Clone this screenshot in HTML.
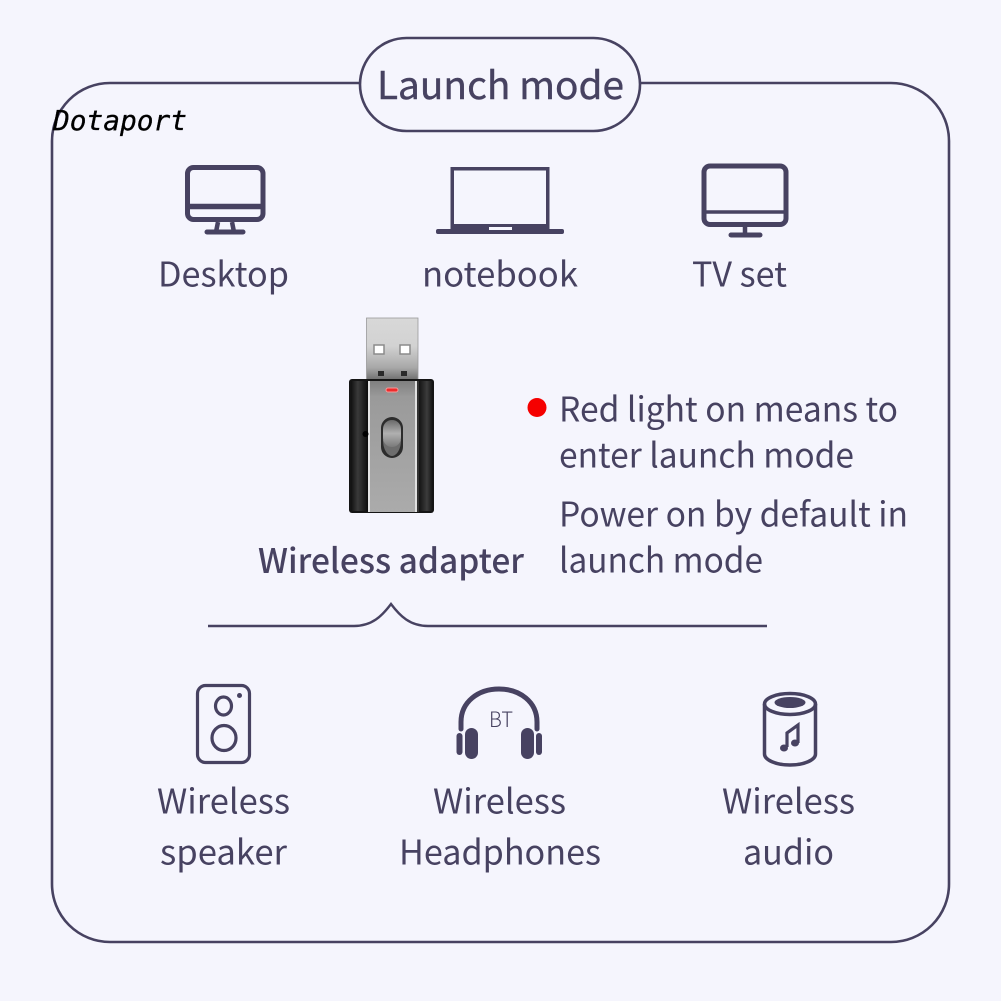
<!DOCTYPE html>
<html>
<head>
<meta charset="utf-8">
<style>
html,body{margin:0;padding:0;background:#f5f5fd;}
svg{display:block;}
text{font-family:"Noto Sans CJK SC","Noto Sans CJK JP","Liberation Sans",sans-serif;fill:#474261;font-size:34px;font-weight:400;}
</style>
</head>
<body>
<svg width="1001" height="1001" viewBox="0 0 1001 1001" xmlns="http://www.w3.org/2000/svg">
<defs>
<linearGradient id="plug" x1="0" y1="0" x2="0" y2="1"><stop offset="0" stop-color="#d8d8d8"/><stop offset="0.45" stop-color="#d2d2d2"/><stop offset="0.8" stop-color="#a8a8a8"/><stop offset="1" stop-color="#6f6f6f"/></linearGradient>
<linearGradient id="metal" x1="0" y1="0" x2="0" y2="1"><stop offset="0" stop-color="#7f7f7f"/><stop offset="0.12" stop-color="#9a9a9a"/><stop offset="1" stop-color="#ababab"/></linearGradient>
<linearGradient id="side" x1="0" y1="0" x2="1" y2="0"><stop offset="0" stop-color="#111"/><stop offset="0.4" stop-color="#3a3a3a"/><stop offset="1" stop-color="#0c0c0c"/></linearGradient>
<linearGradient id="side2" x1="0" y1="0" x2="1" y2="0"><stop offset="0" stop-color="#0e0e0e"/><stop offset="0.6" stop-color="#3c3c3c"/><stop offset="1" stop-color="#111"/></linearGradient>
<linearGradient id="btn" x1="0" y1="0" x2="0" y2="1"><stop offset="0" stop-color="#6a6a6a"/><stop offset="0.5" stop-color="#b0b0b0"/><stop offset="1" stop-color="#7a7a7a"/></linearGradient>
</defs>
<rect width="1001" height="1001" fill="#f5f5fd"/>
<rect x="52" y="83" width="897" height="859" rx="58" fill="none" stroke="#474261" stroke-width="2.600"/>
<rect x="360" y="38" width="280" height="93" rx="46.500" fill="#f5f5fd" stroke="#474261" stroke-width="2.600"/>
<text x="377" y="99" textLength="247" lengthAdjust="spacingAndGlyphs" style="font-size:38px;font-weight:400;stroke:#474261;stroke-width:0.400">Launch mode</text>
<text x="53" y="130" textLength="134" lengthAdjust="spacingAndGlyphs" style="font-family:'DejaVu Sans Mono',monospace;font-style:italic;font-size:27.5px;font-weight:400;fill:#000;stroke:#000;stroke-width:0.300">Dotaport</text>

<!-- desktop -->
<g fill="none" stroke="#474261">
<rect x="187.500" y="167.500" width="75.500" height="52" rx="6" stroke-width="5"/>
<line x1="187" y1="206.500" x2="263" y2="206.500" stroke-width="5.500"/>
<path d="M218 222L216 232M232 222L234 232" stroke-width="4.500"/>
<line x1="207" y1="232" x2="243" y2="232" stroke-width="5" stroke-linecap="round"/>
</g>
<!-- notebook -->
<g fill="#474261">
<path d="M450.500 167H549.500V225H546V170.500H454V225H450.500Z"/>
<rect x="450.500" y="224" width="99" height="10"/>
<rect x="436" y="229" width="128" height="5" rx="2"/>
<rect x="489" y="227" width="23" height="3" fill="#f5f5fd"/>
</g>
<!-- tv -->
<g fill="none" stroke="#474261">
<rect x="704" y="166" width="82" height="58.500" rx="6" stroke-width="5"/>
<line x1="703" y1="212" x2="787" y2="212" stroke-width="3.500"/>
<line x1="745" y1="225" x2="745" y2="234" stroke-width="4.500"/>
<line x1="731" y1="235" x2="760" y2="235" stroke-width="5" stroke-linecap="round"/>
</g>

<text x="158" y="286.500" textLength="131" lengthAdjust="spacingAndGlyphs">Desktop</text>
<text x="422" y="286.500" textLength="156" lengthAdjust="spacingAndGlyphs">notebook</text>
<text x="692" y="286.500" textLength="95" lengthAdjust="spacingAndGlyphs">TV set</text>

<!-- adapter -->
<rect x="366.500" y="318" width="51.500" height="62" fill="url(#plug)" stroke="#9a9a9a" stroke-width="0.800"/>
<rect x="374" y="345" width="10" height="9" fill="#fff" stroke="#8b8b8b" stroke-width="1.500"/>
<rect x="400" y="345" width="10" height="9" fill="#fff" stroke="#8b8b8b" stroke-width="1.500"/>
<rect x="378" y="371" width="6" height="5" fill="#2a2a2a"/>
<rect x="401" y="371" width="6" height="5" fill="#2a2a2a"/>
<rect x="349" y="379" width="85" height="134" rx="3" fill="#151515"/>
<rect x="351" y="381" width="17" height="130" fill="url(#side)"/>
<rect x="418" y="381" width="15" height="130" fill="url(#side2)"/>
<rect x="368" y="381" width="50" height="131" fill="url(#metal)"/>
<rect x="368" y="381" width="2" height="131" fill="#e4e4e4"/>
<rect x="415" y="381" width="2" height="131" fill="#e0e0e0"/>
<rect x="417" y="381" width="2" height="131" fill="#333"/>
<rect x="386" y="388" width="12" height="4" rx="2" fill="#ef2b2b" stroke="#f59a9a" stroke-width="1"/>
<circle cx="365.500" cy="434" r="3" fill="#000"/>
<rect x="381" y="417" width="22" height="41" rx="11" fill="#2c2c2c"/>
<path d="M383 440C383 450 388 456 392 456C396 456 401 450 401 440Z" fill="#6d6d6d"/>
<rect x="383" y="420" width="18" height="27" rx="9" fill="url(#btn)"/>
<text x="258" y="573" textLength="266" lengthAdjust="spacingAndGlyphs" style="font-weight:500">Wireless adapter</text>

<circle cx="537" cy="407.500" r="9.500" fill="#f50000"/>
<text x="559" y="421.500" textLength="339" lengthAdjust="spacingAndGlyphs">Red light on means to</text>
<text x="559" y="467.500" textLength="295" lengthAdjust="spacingAndGlyphs">enter launch mode</text>
<text x="559" y="526.500" textLength="349" lengthAdjust="spacingAndGlyphs">Power on by default in</text>
<text x="559" y="572.500" textLength="204" lengthAdjust="spacingAndGlyphs">launch mode</text>

<path d="M208 626H354C372 626 382 616 391 604C400 616 410 626 428 626H767" fill="none" stroke="#474261" stroke-width="2.400"/>

<!-- speaker -->
<g fill="none" stroke="#474261" stroke-width="3.200">
<rect x="197.500" y="685.500" width="52" height="77" rx="8"/>
<ellipse cx="223.500" cy="706" rx="8" ry="9"/>
<ellipse cx="224" cy="738" rx="12" ry="12.500"/>
</g>
<circle cx="239.500" cy="695.500" r="2.500" fill="#474261"/>

<!-- headphones -->
<path d="M461 729V722C461 702 478 689 499 689C520 689 537 702 537 722V729" fill="none" stroke="#474261" stroke-width="5" stroke-linecap="round"/>
<g fill="#474261">
<rect x="465" y="728" width="13" height="31" rx="6.500"/>
<rect x="456.500" y="733" width="6" height="22" rx="3"/>
<rect x="521" y="728" width="13" height="31" rx="6.500"/>
<rect x="536" y="733" width="6" height="22" rx="3"/>
</g>
<text x="489" y="727" textLength="24" lengthAdjust="spacingAndGlyphs" style="font-size:21px;font-weight:300">BT</text>

<!-- cylinder -->
<g fill="none" stroke="#474261" stroke-width="3.500">
<ellipse cx="790" cy="704" rx="25.500" ry="10.500"/>
<path d="M764.500 704V754C764.500 760 776 765 790 765C804 765 815.500 760 815.500 754V704"/>
</g>
<ellipse cx="790" cy="702.500" rx="15.500" ry="5.500" fill="#474261"/>
<path d="M787 747V733L798 725V743" fill="none" stroke="#474261" stroke-width="3.200"/>
<ellipse cx="784" cy="748" rx="4" ry="3.500" fill="#474261"/>
<ellipse cx="795" cy="743" rx="4" ry="3.500" fill="#474261"/>

<text x="157" y="813.500" textLength="133" lengthAdjust="spacingAndGlyphs">Wireless</text>
<text x="160" y="864.500" textLength="127" lengthAdjust="spacingAndGlyphs">speaker</text>
<text x="433" y="813.500" textLength="133" lengthAdjust="spacingAndGlyphs">Wireless</text>
<text x="399" y="864.500" textLength="202" lengthAdjust="spacingAndGlyphs">Headphones</text>
<text x="722" y="813.500" textLength="133" lengthAdjust="spacingAndGlyphs">Wireless</text>
<text x="743" y="864.500" textLength="91" lengthAdjust="spacingAndGlyphs">audio</text>
</svg>
</body>
</html>
